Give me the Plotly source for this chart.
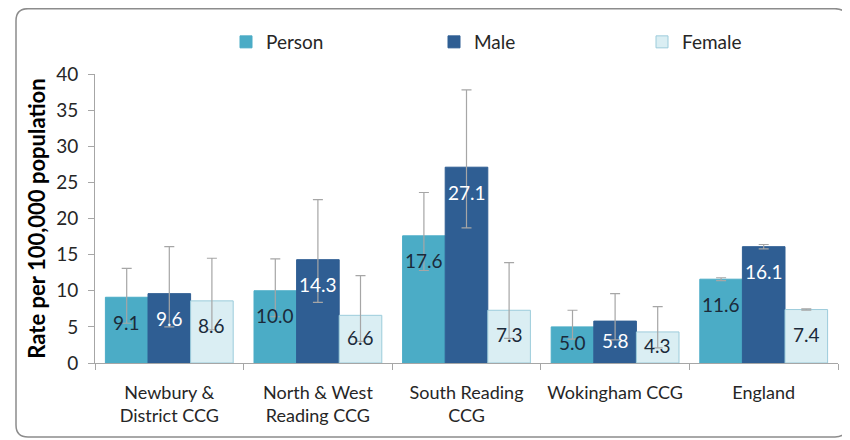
import plotly.graph_objects as go

categories = ["Newbury &<br>District CCG", "North & West<br>Reading CCG", "South Reading<br>CCG", "Wokingham CCG", "England"]
person = [9.1, 10.0, 17.6, 5.0, 11.6]
male = [9.6, 14.3, 27.1, 5.8, 16.1]
female = [8.6, 6.6, 7.3, 4.3, 7.4]
person_upper = [13.1, 14.4, 23.6, 7.3, 11.8]
person_lower = [5.5, 6.4, 12.8, 3.3, 11.4]
male_upper = [16.1, 22.6, 37.8, 9.6, 16.4]
male_lower = [5.0, 8.4, 18.7, 3.2, 15.8]
female_upper = [14.5, 12.1, 13.9, 7.8, 7.5]
female_lower = [4.6, 3.0, 3.4, 2.1, 7.3]

FONT = "Lato"
OFF = 8  # page body margin
W, H = 850 - OFF, 440 - OFF
ML, MR, MT, MB = 95 - OFF, 12, 74 - OFF, 77
PW, PH = W - ML - MR, H - MT - MB
YMAX = 40

series = [
    ("Person", person, person_upper, person_lower, "#4BACC6", "#4BACC6", "#1B2A3A"),
    ("Male", male, male_upper, male_lower, "#2F5E93", "#2F5E93", "#FFFFFF"),
    ("Female", female, female_upper, female_lower, "#DAEEF3", "#9CCCDB", "#1B2A3A"),
]

fig = go.Figure()
for name, vals, up, lo, col, line, tcol in series:
    fig.add_trace(go.Bar(
        name=name, x=categories, y=vals,
        marker=dict(color=col, line=dict(color=line, width=1)),
        error_y=dict(type="data", symmetric=False,
                     array=[u - v for u, v in zip(up, vals)],
                     arrayminus=[v - l for v, l in zip(vals, lo)],
                     color="#A6A6A6", thickness=1.2, width=5),
    ))

# value labels placed inside bars, near the top
bw = PW / len(categories) * (1 - 0.14) / 3
for si, (name, vals, up, lo, col, line, tcol) in enumerate(series):
    for ci, v in enumerate(vals):
        bar_px = v * PH / YMAX
        shift = -min(25, bar_px / 2 - 2)
        fig.add_annotation(
            x=categories[ci], y=v, xref="x", yref="y",
            xshift=(si - 1) * bw, yshift=shift,
            text=f"{v:.1f}", showarrow=False, yanchor="middle",
            font=dict(family=FONT, size=19, color=tcol),
        )

# rounded outer border (coordinates in viewport pixels)
def px_to_paper_x(px):
    return (px - OFF - ML) / PW

def px_to_paper_y(py):
    return (H - MB - (py - OFF)) / PH

x0, x1, y0, y1, r = 16, 847, 8.7, 437, 12
path = (
    f"M {px_to_paper_x(x0 + r)} {px_to_paper_y(y0)} "
    f"L {px_to_paper_x(x1 - r)} {px_to_paper_y(y0)} "
    f"Q {px_to_paper_x(x1)} {px_to_paper_y(y0)} {px_to_paper_x(x1)} {px_to_paper_y(y0 + r)} "
    f"L {px_to_paper_x(x1)} {px_to_paper_y(y1 - r)} "
    f"Q {px_to_paper_x(x1)} {px_to_paper_y(y1)} {px_to_paper_x(x1 - r)} {px_to_paper_y(y1)} "
    f"L {px_to_paper_x(x0 + r)} {px_to_paper_y(y1)} "
    f"Q {px_to_paper_x(x0)} {px_to_paper_y(y1)} {px_to_paper_x(x0)} {px_to_paper_y(y1 - r)} "
    f"L {px_to_paper_x(x0)} {px_to_paper_y(y0 + r)} "
    f"Q {px_to_paper_x(x0)} {px_to_paper_y(y0)} {px_to_paper_x(x0 + r)} {px_to_paper_y(y0)} Z"
)
fig.add_shape(type="path", path=path, xref="paper", yref="paper",
              line=dict(color="#8C8C8C", width=1.5), layer="below")

fig.update_layout(
    width=W, height=H,
    margin=dict(l=ML, r=MR, t=MT, b=MB, autoexpand=False),
    paper_bgcolor="white", plot_bgcolor="white",
    barmode="group", bargap=0.14, bargroupgap=0,
    font=dict(family=FONT, size=16, color="#262626"),
    showlegend=True,
    legend=dict(orientation="h", x=px_to_paper_x(226), xanchor="left",
                y=px_to_paper_y(42), yanchor="middle",
                font=dict(family=FONT, size=19, color="#262626"),
                entrywidth=163, entrywidthmode="pixels",
                bgcolor="rgba(0,0,0,0)"),
    xaxis=dict(showline=True, linecolor="#A6A6A6", linewidth=1,
               ticks="outside", tickson="boundaries", ticklen=6, tickcolor="#A6A6A6",
               tickfont=dict(family=FONT, size=18, color="#262626"),
               ticklabelstandoff=13,
               showgrid=False, automargin=False),
    yaxis=dict(range=[0, YMAX], dtick=5, showline=True, linecolor="#A6A6A6", linewidth=1,
               ticks="outside", ticklen=6, tickcolor="#A6A6A6",
               tickfont=dict(family=FONT, size=19, color="#262626"),
               ticklabelstandoff=6,
               showgrid=False, zeroline=False, automargin=False,
               title=dict(text="<b>Rate per 100,000 population</b>",
                          font=dict(family=FONT, size=22, color="#000000"),
                          standoff=4)),
)

fig.write_html("out.html")
